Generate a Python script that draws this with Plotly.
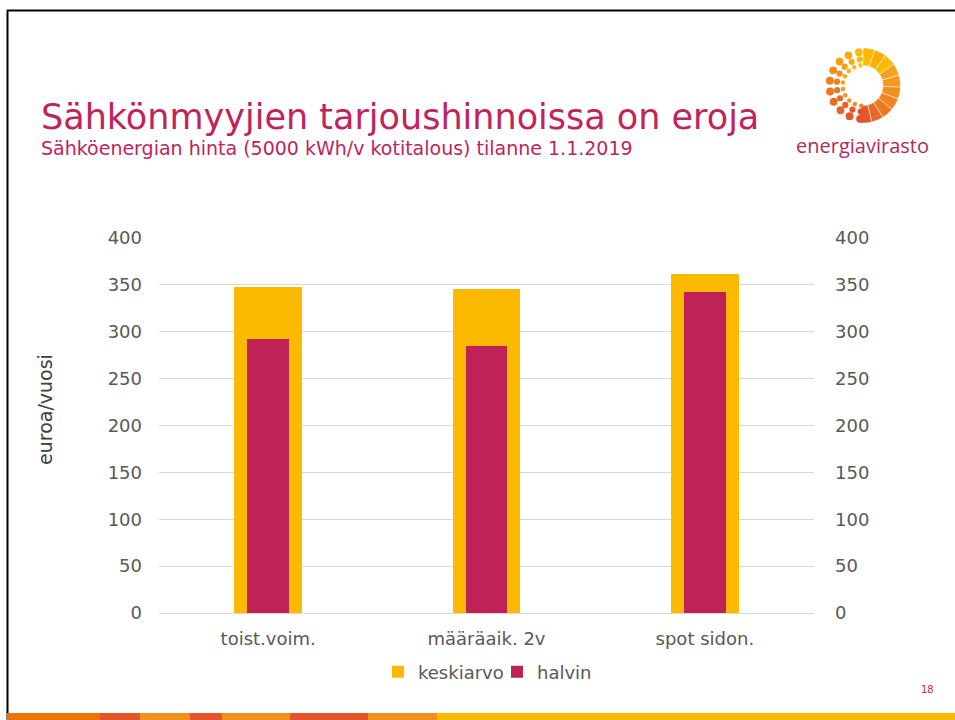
import math
import plotly.graph_objects as go

categories = ["toist.voim.", "määräaik. 2v", "spot sidon."]
keskiarvo = [348, 346, 362]
halvin = [292, 285, 342]
y_ticks = [0, 50, 100, 150, 200, 250, 300, 350, 400]

W, H = 955, 720
L, R, T, B = 159, 141, 238, 107
PW, PH = W - L - R, H - T - B


def px(x):
    return (x - L) / PW


def py(y):
    return (H - B - y) / PH


FONT = "DejaVu Sans, Verdana, sans-serif"
CRIMSON = "#BE2257"
YELLOW = "#FBB900"

fig = go.Figure()
fig.add_trace(go.Bar(x=categories, y=keskiarvo, name="keskiarvo", marker_color=YELLOW,
                     width=0.31, marker_line_width=0, legend="legend"))
fig.add_trace(go.Bar(x=categories, y=halvin, name="halvin", marker_color=CRIMSON,
                     width=0.19, marker_line_width=0, legend="legend2"))
fig.add_trace(go.Scatter(x=categories, y=keskiarvo, yaxis="y2", mode="none",
                         showlegend=False, hoverinfo="skip"))

shapes = []
# slide border
shapes.append(dict(type="line", xref="paper", yref="paper", x0=px(7), x1=px(956),
                   y0=py(10.5), y1=py(10.5), line=dict(color="black", width=2)))
shapes.append(dict(type="line", xref="paper", yref="paper", x0=px(7.5), x1=px(7.5),
                   y0=py(10), y1=py(721), line=dict(color="black", width=2)))
# bottom colour band
band = [(7, 100, "#EE7203"), (100, 140, "#E5552A"), (140, 190, "#F0901E"),
        (190, 222, "#E5552A"), (222, 290, "#F0901E"), (290, 368, "#E5552A"),
        (368, 437, "#F0901E"), (437, 956, YELLOW)]
for x0, x1, c in band:
    shapes.append(dict(type="rect", xref="paper", yref="paper", x0=px(x0), x1=px(x1),
                       y0=py(713), y1=py(721), fillcolor=c, line_width=0, layer="above"))

# logo
cx, cy = 863, 85.5
r_out, r_in = 37.5, 20
wedge_cols = ["#FBBA00", "#F9AE00", "#FBBA00", "#F7A21A", "#F39A1E", "#F28E1C",
              "#EF8420", "#EC7A22", "#E86A28", "#E5572A"]
n = len(wedge_cols)
for i, c in enumerate(wedge_cols):
    a0 = math.radians(90 - 185 * i / n)
    a1 = math.radians(90 - 185 * (i + 1) / n)
    pts = []
    steps = 6
    for k in range(steps + 1):
        a = a0 + (a1 - a0) * k / steps
        pts.append((cx + r_out * math.cos(a), cy - r_out * math.sin(a)))
    for k in range(steps + 1):
        a = a1 + (a0 - a1) * k / steps
        pts.append((cx + r_in * math.cos(a), cy - r_in * math.sin(a)))
    path = "M " + " L ".join(f"{px(x):.5f},{py(y):.5f}" for x, y in pts) + " Z"
    shapes.append(dict(type="path", xref="paper", yref="paper", path=path,
                       fillcolor=c, line=dict(color="white", width=0.5)))


def mix(c1, c2, t):
    t = max(0.0, min(1.0, t))
    a = [int(c1[i:i + 2], 16) for i in (1, 3, 5)]
    b = [int(c2[i:i + 2], 16) for i in (1, 3, 5)]
    return "#" + "".join(f"{int(round(a[j] + (b[j] - a[j]) * t)):02X}" for j in range(3))


rings = [(33.5, 3.9, 10), (26.3, 3.1, 10), (20.3, 2.3, 10)]
for rr, dr, cnt in rings:
    for k in range(cnt):
        ang = math.radians(97 + (265 - 97) * k / (cnt - 1))
        x = cx + rr * math.cos(ang)
        y = cy - rr * math.sin(ang)
        t = k / (cnt - 1)
        col = mix("#FBBA10", "#EE7A1E", t * 2) if t < 0.5 else mix("#EE7A1E", "#E3502A", (t - 0.5) * 2)
        if rr < 22:
            col = mix(col, "#FBCB2A", 0.45)
        shapes.append(dict(type="circle", xref="paper", yref="paper",
                           x0=px(x - dr), x1=px(x + dr), y0=py(y + dr), y1=py(y - dr),
                           fillcolor=col, line_width=0))

annotations = [
    dict(text="Sähkönmyyjien tarjoushinnoissa on eroja", xref="paper", yref="paper",
         x=px(39), y=py(117), xanchor="left", yanchor="middle", showarrow=False,
         font=dict(family=FONT, size=35, color="#C0245C")),
    dict(text="Sähköenergian hinta (5000 kWh/v kotitalous) tilanne 1.1.2019", xref="paper",
         yref="paper", x=px(39), y=py(148), xanchor="left", yanchor="middle", showarrow=False,
         font=dict(family=FONT, size=19, color="#C0245C")),
    dict(text="energiavirasto", xref="paper", yref="paper", x=px(862), y=py(145),
         xanchor="center", yanchor="middle", showarrow=False,
         font=dict(family="Open Sans, sans-serif", size=20, color="#B02A5B")),
    dict(text="euroa/vuosi", xref="paper", yref="paper", x=px(45), y=py(410),
         xanchor="center", yanchor="middle", textangle=-90, showarrow=False,
         font=dict(family=FONT, size=19, color="#404040")),
    dict(text="18", xref="paper", yref="paper", x=px(927), y=py(689),
         xanchor="center", yanchor="middle", showarrow=False,
         font=dict(family=FONT, size=10, color="#C0245C")),
]

axis_font = dict(family=FONT, size=18, color="#595959")
legend_common = dict(orientation="h", xanchor="left", yanchor="middle", font=axis_font,
                     itemwidth=30, bgcolor="rgba(0,0,0,0)", borderwidth=0)
fig.update_layout(
    width=W, height=H,
    margin=dict(l=L, r=R, t=T, b=B, pad=0),
    paper_bgcolor="white", plot_bgcolor="white",
    barmode="overlay",
    bargap=0,
    showlegend=True,
    legend=dict(x=px(378), y=py(672), **legend_common),
    legend2=dict(x=px(497), y=py(672), **legend_common),
    xaxis=dict(type="category", showgrid=False, showline=True, linecolor="#D9D9D9",
               linewidth=1, ticks="", tickfont=axis_font, ticklabelstandoff=9,
               zeroline=False),
    yaxis=dict(range=[0, 400], tickvals=y_ticks, showgrid=True, gridcolor="#D9D9D9",
               gridwidth=1, zeroline=False, showline=False, ticks="", tickfont=axis_font,
               ticklabelstandoff=16),
    yaxis2=dict(range=[0, 400], tickvals=y_ticks, overlaying="y", side="right",
                showgrid=False, zeroline=False, showline=False, ticks="",
                tickfont=axis_font, ticklabelstandoff=20),
    shapes=shapes,
    annotations=annotations,
    font=dict(family=FONT),
)

fig.write_html("out.html", config={"displayModeBar": False},
               post_script="document.body.style.margin='0';document.body.style.overflow='hidden';")
